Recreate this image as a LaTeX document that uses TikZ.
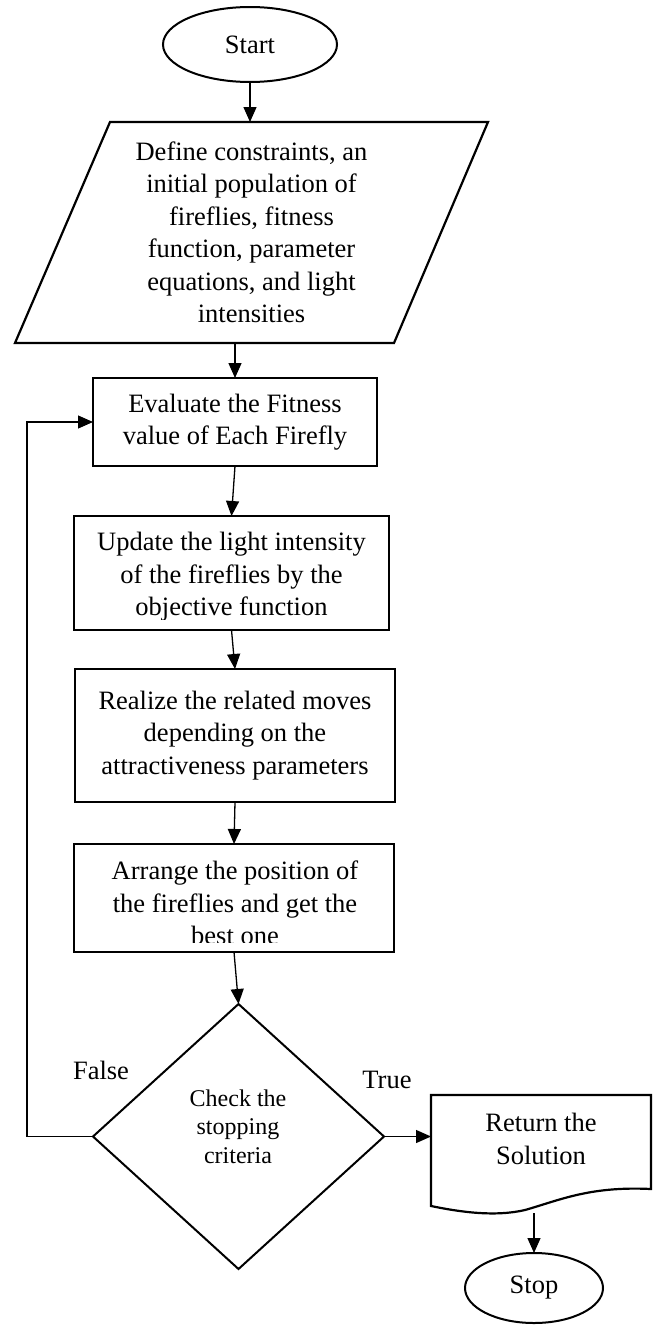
\documentclass[tikz,border=0pt]{standalone}
\usepackage{fontspec}
\setmainfont{Liberation Serif}
\usetikzlibrary{shapes.geometric,arrows.meta,calc}
\begin{document}
\begin{tikzpicture}[x=1pt,y=-1pt,
  every node/.style={font=\fontsize{26.5}{32.5}\selectfont, inner sep=0pt, outer sep=0pt},
  boxst/.style={draw, line width=2.2pt, rectangle, align=center},
  term/.style={draw, line width=2pt, ellipse},
  arr/.style={line width=1.3pt, -{Triangle[length=15pt,width=13pt]}},
  shapeline/.style={line width=2.2pt, line join=miter}]
\useasboundingbox (0,0) rectangle (654,1328);

\node[term, minimum width=174pt, minimum height=75pt] (start) at (250,44.5) {Start};

\node[minimum width=473pt, minimum height=221pt, align=center] (para) at (251.5,232.5)
  {Define constraints, an\\initial population of\\fireflies, fitness\\function, parameter\\equations, and light\\intensities};
\draw[shapeline] ($(para.north west)+(95,0)$) -- (para.north east) -- ($(para.south east)+(-94,0)$) -- (para.south west) -- cycle;

\node[boxst, minimum width=284pt, minimum height=88pt] (eval) at (235,422)
  {Evaluate the Fitness\\value of Each Firefly};

\begin{scope}
  \clip (74,516) rectangle (389,619);
  \node[align=center] (updatetxt) at (231.5,577)
    {Update the light intensity\\of the fireflies by the\\objective function};
\end{scope}
\node[boxst, minimum width=315pt, minimum height=114pt] (update) at (231.5,573) {};

\node[boxst, minimum width=320pt, minimum height=133pt] (realize) at (235,735.5)
  {Realize the related moves\\depending on the\\attractiveness parameters};

\begin{scope}
  \clip (74,844) rectangle (394,942);
  \node[align=center] (arrangetxt) at (235,903)
    {Arrange the position of\\the fireflies and get the\\best one};
\end{scope}
\node[boxst, minimum width=320pt, minimum height=108pt] (arrange) at (234,898) {};

\node[draw, diamond, line width=2pt, minimum width=291pt, minimum height=265pt] (check) at (238.5,1136.5) {};
\node[font=\fontsize{24}{28.5}\selectfont, align=center] (checktxt) at (238,1126.5)
  {Check the\\stopping\\criteria};

\node (false) at (101,1070) {False};
\node (true) at (387,1080) {True};

\node[minimum width=220pt, minimum height=88pt, align=center] (doc) at (541,1139)
  {Return the\\Solution};
\draw[shapeline] (doc.north west) -- (doc.north east) -- ($(doc.south east)+(0,6)$)
  .. controls (590,1186) and (560,1200) .. (525,1210)
  .. controls (495,1217) and (460,1212) .. ($(doc.south west)+(0,23)$) -- cycle;

\node[term, minimum width=138pt, minimum height=70pt] (stop) at (534,1288) {Stop};

\draw[arr] (start.south) -- (start.south |- para.north);
\draw[arr] (para.south -| eval.north) -- (eval.north);
\draw[arr] (eval.south) -- (update.north);
\draw[arr] (update.south) -- (realize.north);
\draw[arr] (realize.south) -- (arrange.north);
\draw[arr] (arrange.south) -- (check.north);
\coordinate (loopx) at (27,0);
\draw[arr, line width=1.2pt] (check.west) -- (check.west -| loopx) -- (eval.west -| loopx) -- (eval.west);
\draw[arr] (check.east) -- (check.east -| doc.west);
\coordinate (docout) at (534,1213);
\draw[arr] (docout) -- (stop.north);
\end{tikzpicture}
\end{document}
